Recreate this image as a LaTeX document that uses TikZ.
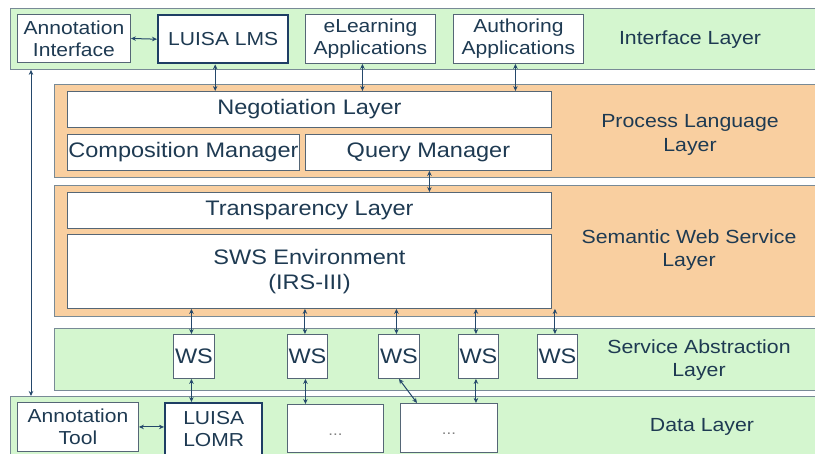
\documentclass[tikz,border=0pt]{standalone}
\usepackage{fontspec}
\setmainfont{Liberation Sans}[FakeStretch=1.12]
\usetikzlibrary{arrows.meta}
\definecolor{lgreen}{RGB}{212,246,207}
\definecolor{lorange}{RGB}{249,207,160}
\definecolor{lborder}{RGB}{120,138,150}
\definecolor{bborder}{RGB}{85,102,118}
\definecolor{txt}{RGB}{30,58,82}
\definecolor{arrc}{RGB}{36,72,107}
\definecolor{thick}{RGB}{30,62,100}
\tikzset{
  layer/.style={draw=lborder, line width=0.9pt, anchor=north west, inner sep=0pt},
  glayer/.style={layer, fill=lgreen},
  olayer/.style={layer, fill=lorange},
  box/.style={draw=bborder, line width=0.9pt, fill=white, anchor=north west, inner sep=0pt,
    align=center, text=txt, font=\fontsize{18.8}{22}\selectfont},
  bigbox/.style={box, font=\fontsize{21}{25}\selectfont},
  lmsbox/.style={box, draw=thick, line width=2.4pt},
  dots/.style={box, text=gray, font=\fontsize{15}{18}\selectfont},
  lbl/.style={align=center, text=txt, font=\fontsize{19}{23.5}\selectfont, inner sep=0pt},
  arr/.style={draw=arrc, line width=1pt, {Stealth[length=5pt,width=4.5pt]}-{Stealth[length=5pt,width=4.5pt]}}
}
\begin{document}
\begin{tikzpicture}[x=1pt,y=-1pt]
\clip (0,0) rectangle (815,454);
\fill[white] (0,0) rectangle (815,454);
% layers
\node[glayer, minimum width=815pt, minimum height=61pt] (iface) at (10,8) {};
\node[olayer, minimum width=770pt, minimum height=93pt] (plang) at (54,84) {};
\node[olayer, minimum width=770pt, minimum height=131pt] (sws) at (54,185) {};
\node[glayer, minimum width=770pt, minimum height=62pt] (sal) at (54,328) {};
\node[glayer, minimum width=815pt, minimum height=70pt] (data) at (10,396) {};
% layer labels
\node[lbl] (ilbl) at (690,40) {Interface Layer};
\node[lbl] (plbl) at (690,135) {Process Language\\Layer};
\node[lbl] (slbl) at (689,250) {Semantic Web Service\\Layer};
\node[lbl] (albl) at (699,360) {Service Abstraction\\Layer};
\node[lbl] (dlbl) at (702,427) {Data Layer};
% interface boxes
\node[box, minimum width=113pt, minimum height=48pt] (ai) at (17,14) {Annotation\\Interface};
\node[lmsbox, minimum width=130pt, minimum height=48pt] (lms) at (157,14) {LUISA LMS};
\node[box, minimum width=130pt, minimum height=49pt] (ela) at (305,14) {eLearning\\Applications};
\node[box, minimum width=130pt, minimum height=49pt] (aua) at (453,14) {Authoring\\Applications};
% process language
\node[bigbox, minimum width=484pt, minimum height=36pt] (neg) at (67,91) {Negotiation Layer};
\node[bigbox, minimum width=232pt, minimum height=36pt] (comp) at (67,134) {Composition Manager};
\node[bigbox, minimum width=246pt, minimum height=36pt] (qm) at (305,134) {Query Manager};
% sws
\node[bigbox, minimum width=484pt, minimum height=36pt] (tl) at (67,192) {Transparency Layer};
\node[bigbox, minimum width=484pt, minimum height=74pt] (swse) at (67,234) {SWS Environment\\(IRS-III)};
% ws
\node[bigbox, minimum width=41pt, minimum height=44pt] (ws1) at (173,334) {WS};
\node[bigbox, minimum width=40pt, minimum height=44pt] (ws2) at (287,334) {WS};
\node[bigbox, minimum width=41pt, minimum height=44pt] (ws3) at (378,334) {WS};
\node[bigbox, minimum width=40pt, minimum height=44pt] (ws4) at (458,334) {WS};
\node[bigbox, minimum width=40pt, minimum height=44pt] (ws5) at (537,334) {WS};
% data
\node[box, minimum width=121pt, minimum height=49pt] (at) at (17,402) {Annotation\\Tool};
\node[lmsbox, minimum width=97pt, minimum height=52pt] (lomr) at (164,402) {LUISA\\LOMR};
\node[dots, minimum width=96pt, minimum height=48pt] (d1) at (287,404) {\raisebox{-7pt}[0pt][0pt]{...}};
\node[dots, minimum width=97pt, minimum height=49pt] (d2) at (400,403) {\raisebox{-7pt}[0pt][0pt]{...}};
% connectors
\draw[arr] (ai.east) -- (lms.west);
\draw[arr] (at.east) -- (lomr.west |- at.east);
\draw[arr] ([xshift=-8pt]lms.south) -- ([xshift=-8pt]lms.south |- neg.north);
\draw[arr] ([xshift=-8pt]ela.south) -- ([xshift=-8pt]ela.south |- neg.north);
\draw[arr] ([xshift=-3pt]aua.south) -- ([xshift=-3pt]aua.south |- neg.north);
\draw[arr] ([xshift=1pt]qm.south) -- ([xshift=1pt]qm.south |- tl.north);
\draw[arr] ([xshift=21pt]iface.south west) -- ([xshift=21pt]data.north west);
\foreach \w in {ws1,ws2,ws3,ws4,ws5}{
  \draw[arr] ([xshift=-2.5pt]\w.north |- swse.south) -- ([xshift=-2.5pt]\w.north);
}
\draw[arr] ([xshift=-2.5pt]ws1.south) -- ([xshift=-2.5pt]ws1.south |- lomr.north);
\draw[arr] ([xshift=-2pt]ws2.south) -- ([xshift=-2pt]ws2.south |- d1.north);
\draw[arr] ([xshift=-2.5pt]ws4.south) -- ([xshift=-2.5pt]ws4.south |- d2.north);
\draw[arr] (ws3.south) -- ([xshift=17pt]d2.north west);
\end{tikzpicture}
\end{document}
